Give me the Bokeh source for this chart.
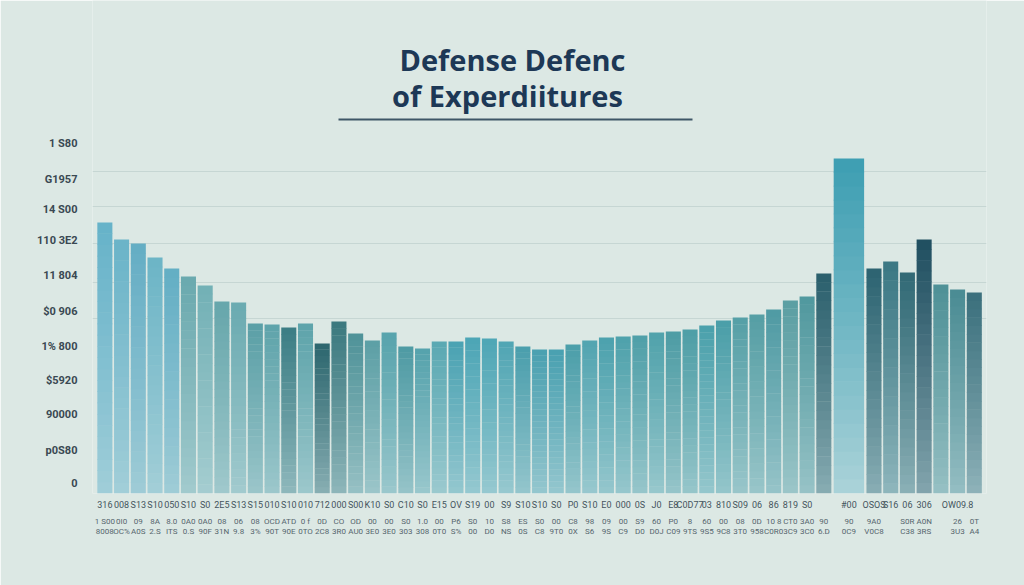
import numpy as np
from bokeh.plotting import figure
from bokeh.models import ColumnDataSource, Range1d, FixedTicker, LinearAxis, Grid
from bokeh.core.properties import value
from bokeh.embed import file_html
from bokeh.resources import INLINE

# ---------------- data ----------------
title_line1 = "Defense Defenc"
title_line2 = "of Experdiitures"

spend = [542, 508, 500, 472, 450, 434, 416, 384, 382, 340,
         338, 332, 340, 300, 344, 320, 306, 322, 294, 290,
         304, 304, 312, 310, 304, 294, 288, 288, 298, 306,
         312, 314, 316, 322, 324, 328, 336, 346, 352, 358,
         368, 386, 394, 440, 670, 450, 464, 442, 508, 418,
         408, 402]

x_labels_top = ["316", "008", "S13", "S10", "050", "S10", "S0", "2E5", "S13", "S15",
                "010", "S10", "010", "712", "000", "S00", "K10", "S0", "C10", "S0",
                "E15", "OV", "S19", "00", "S9", "S10", "S10", "S0", "P0", "S10",
                "E0", "000", "0S", "J0", "E8", "C0D77", "03", "810", "S09", "06",
                "86", "819", "S0", "", "#00", "OSOS", "S16", "06", "306", "",
                "OW09.8", ""]

x_labels_bottom = ["1 S00\n8008", "0I0\nOC%", "09\nA0S", "8A\n2.S", "8.0\nITS", "0A0\n0.S",
                   "0A0\n90F", "08\n31N", "06\n9.8", "08\n3%", "OCD\n90T", "ATD\n90E",
                   "0 f\n0TO", "0D\n2C8", "CO\n3R0", "OD\nAU0", "00\n3E0", "00\n3E0",
                   "S0\n303", "1.0\n308", "00\n0T0", "P6\nS%", "S0\n00", "10\nD0",
                   "S8\nNS", "ES\n0S", "S0\nC8", "00\n9T0", "C8\n0X", "98\nS6",
                   "09\n9S", "00\nC9", "S9\nD0", "60\nD0J", "P0\nC09", "8\n9TS",
                   "60\n9S5", "00\n9C8", "08\n3T0", "0D\n958", "10 8\nC0R0", "CT0\n3C9",
                   "3A0\n3C0", "90\n6.D", "90\n0C9", "9A0\nV0C8", "", "S0R\nC38",
                   "A0N\n3RS", "", "26\n3U3", "0T\nA4"]

y_tick_values = [700, 628, 568, 506, 436, 364, 294, 226, 158, 86, 20]
y_tick_labels = ["1 S80", "G1957", "14 S00", "110 3E2", "11 804", "$0 906",
                 "1% 800", "$5920", "90000", "p0S80", "0"]
grid_values = [644, 574, 500, 422, 350]

# ---------------- styles / layout ----------------
BG = "#dce8e4"
bar_top_colors = [
    "#66b2c9", "#6ab3c8", "#64adc4", "#6cb4c6", "#63aec4",
    "#6aa9ae", "#72b0b5", "#66a6ab", "#6aaab0", "#5a9fa6",
    "#5ea3aa", "#3b7d84", "#5da3aa", "#2c666e", "#3a787e",
    "#4f9298", "#5c9fa5", "#57a3ac", "#4e9aa3", "#55a2ac",
    "#5aa8b2", "#4aa2b2", "#4ca5b5", "#4ea6b5", "#50a5b3",
    "#4a9eac", "#4aa0b0", "#49a0b0", "#4b9ea9", "#52a4b0",
    "#4ca1ad", "#4ea1ab", "#4f9fa8", "#50a2ab", "#4d9ca4",
    "#4e9ea6", "#4aa0ab", "#4a9ea8", "#559fa6", "#559ea4",
    "#4f9aa3", "#5a9ea2", "#50989e", "#2a5f6c", "#3d9eb2",
    "#2c6371", "#3a7783", "#316975", "#1f4e60", "#4e9096",
    "#4a8b93", "#3a6f7c"]
BOTTOM_TINT = "#c8e1e3"

W, H = 1024, 585
FL, FR, FT, FB = 92, 986, 0, 493      # frame edges in pixels
FIRST_PX, SLOT_PX = 96, 16.72          # left edge of first bar, slot width
UNITS_PER_PX = 2.0
WIDE_INDEX = 44                        # the double-width bar


def px_x(px):
    return (px - FIRST_PX) / SLOT_PX - 0.5


def px_y(py):
    return (FB - py) * UNITS_PER_PX


def hex2rgb(h):
    h = h.lstrip("#")
    return np.array([int(h[i:i + 2], 16) for i in (0, 2, 4)], dtype=float)


def rgb2hex(c):
    c = np.clip(np.round(c), 0, 255).astype(int)
    return "#%02x%02x%02x" % tuple(c)


# slot centres and widths
slots, widths = [], []
s = 0
for i in range(len(spend)):
    if i == WIDE_INDEX:
        slots.append(s + 0.5)
        widths.append(1.82)
        s += 2
    else:
        slots.append(s)
        widths.append(0.9)
        s += 1

# gradient bands for each bar
NB = 24
left, right, bottom, top, colors = [], [], [], [], []
tint = hex2rgb(BOTTOM_TINT)
for i, v in enumerate(spend):
    tc = hex2rgb(bar_top_colors[i])
    bc = tc * 0.4 + tint * 0.6
    if i == WIDE_INDEX:
        bc = tc * 0.2 + tint * 0.8
    for k in range(NB):
        f = (k + 0.5) / NB
        c = bc + (tc - bc) * (f ** 0.9)
        left.append(slots[i] - widths[i] / 2)
        right.append(slots[i] + widths[i] / 2)
        bottom.append(v * k / NB)
        top.append(v * (k + 1) / NB + (0 if k == NB - 1 else v / NB * 0.05))
        colors.append(rgb2hex(c))

src = ColumnDataSource(dict(left=left, right=right, bottom=bottom, top=top, color=colors))

p = figure(width=W, height=H,
           x_range=Range1d(px_x(FL), px_x(FR)),
           y_range=Range1d(0, px_y(FT)),
           x_axis_type=None, y_axis_type=None,
           output_backend="svg", toolbar_location=None,
           min_border_left=FL, min_border_right=W - FR,
           min_border_top=FT, min_border_bottom=H - FB)
p.background_fill_color = BG
p.border_fill_color = BG
p.outline_line_color = None

p.add_layout(Grid(dimension=1, ticker=FixedTicker(ticks=grid_values),
                  grid_line_color="#c6d6d3", grid_line_width=1))

p.quad(left="left", right="right", bottom="bottom", top="top",
       fill_color="color", line_color=None, source=src)


def plain_axis(ax):
    ax.axis_line_color = None
    ax.major_tick_line_color = None
    ax.minor_tick_line_color = None
    ax.major_tick_out = 0
    ax.major_tick_in = 0
    ax.minor_tick_out = 0
    ax.minor_tick_in = 0
    ax.axis_label_standoff = 0


# y axis
yax = LinearAxis(ticker=FixedTicker(ticks=y_tick_values),
                 major_label_overrides={v: t for v, t in zip(y_tick_values, y_tick_labels)})
plain_axis(yax)
yax.major_label_standoff = 15
yax.major_label_text_font = "Roboto"
yax.major_label_text_font_style = "bold"
yax.major_label_text_font_size = "11px"
yax.major_label_text_color = "#3a4852"
p.add_layout(yax, "left")

# x axes (two rows)
xax1 = LinearAxis(ticker=FixedTicker(ticks=slots),
                  major_label_overrides={sl: t for sl, t in zip(slots, x_labels_top)})
xax2 = LinearAxis(ticker=FixedTicker(ticks=slots),
                  major_label_overrides={sl: t for sl, t in zip(slots, x_labels_bottom)})
for ax, fs, so, col in ((xax1, "9px", 6, "#44545d"), (xax2, "8px", 4, "#56666e")):
    plain_axis(ax)
    ax.major_label_standoff = so
    ax.major_label_text_font = "Roboto"
    ax.major_label_text_font_size = fs
    ax.major_label_text_color = col
p.add_layout(xax1, "below")
p.add_layout(xax2, "below")

# title and rule
p.text(x=[px_x(512)], y=[px_y(59)], text=[title_line1],
       text_font=value("Open Sans"), text_font_style="bold", text_font_size="29px",
       text_color="#1d3856", text_align="center", text_baseline="middle")
p.text(x=[px_x(507)], y=[px_y(95)], text=[title_line2],
       text_font=value("Open Sans"), text_font_style="bold", text_font_size="29px",
       text_color="#1d3856", text_align="center", text_baseline="middle")
p.segment(x0=[px_x(338)], y0=[px_y(119)], x1=[px_x(692)], y1=[px_y(119)],
          line_color="#3e5667", line_width=2)

open("out.html", "w").write(file_html(p, INLINE))
